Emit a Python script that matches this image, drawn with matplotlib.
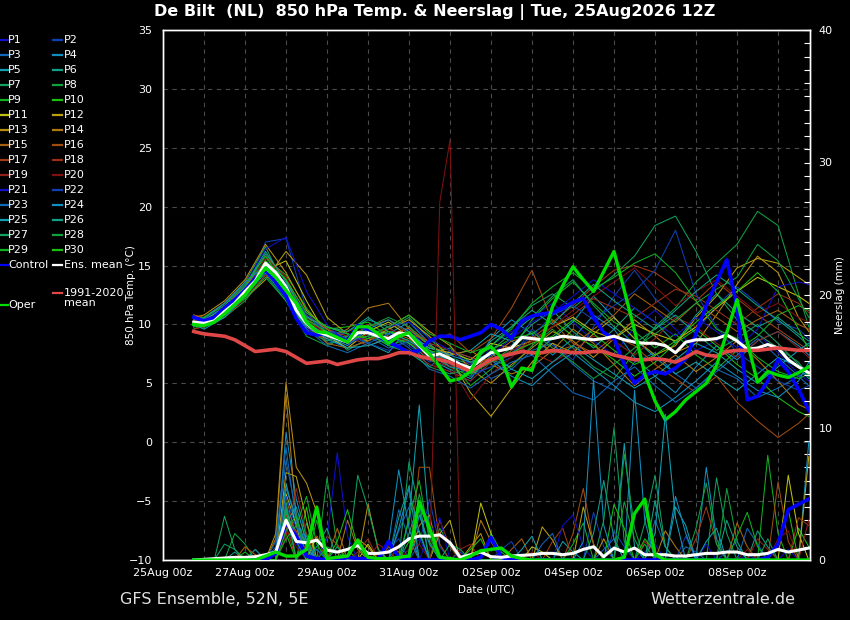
import numpy as np
import pandas as pd
import matplotlib
matplotlib.use('Agg')
import matplotlib.pyplot as plt
import matplotlib.dates as mdates
from matplotlib.lines import Line2D
from matplotlib.ticker import MultipleLocator

# --- data -------------------------------------------------------------------
times = pd.date_range('2026-08-25 18:00', periods=61, freq='6h')
# members are stored 12-hourly (plus first and last step)
member_steps = [0] + list(range(1, 60, 2)) + [60]

ens_mean = [10.2, 10.1, 10.3, 11.1, 11.8, 12.8, 13.7, 15.2, 14.4, 13.2,
            11.2, 10.1, 9.4, 9.1, 8.8, 8.5, 9.3, 9.3, 9.0, 8.8,
            9.3, 9.1, 8.2, 7.3, 7.5, 7.1, 6.6, 6.3, 7.0, 7.6,
            7.8, 8.0, 8.9, 8.8, 8.7, 8.8, 9.0, 8.9, 8.8, 8.7,
            8.8, 9.0, 8.7, 8.5, 8.4, 8.4, 8.2, 7.6, 8.5, 8.7,
            8.7, 8.8, 9.1, 8.6, 7.9, 8.0, 8.3, 8.0, 7.0, 6.4, 5.9]
clim_mean = [9.4, 9.2, 9.1, 9.0, 8.7, 8.2, 7.7, 7.8, 7.9, 7.7,
             7.2, 6.7, 6.8, 6.9, 6.6, 6.8, 7.0, 7.1, 7.1, 7.3,
             7.6, 7.6, 7.3, 7.1, 7.0, 6.8, 6.4, 6.0, 6.5, 7.0,
             7.3, 7.5, 7.7, 7.6, 7.6, 7.8, 7.7, 7.6, 7.6, 7.7,
             7.7, 7.4, 7.2, 7.0, 7.0, 7.1, 7.0, 6.8, 7.2, 7.7,
             7.4, 7.3, 7.7, 7.8, 7.8, 7.8, 7.9, 8.0, 7.9, 7.8, 7.8]
control = [10.6, 10.3, 10.6, 11.4, 12.1, 12.9, 13.9, 14.6, 13.6, 12.4,
           10.5, 9.3, 9.1, 9.3, 9.0, 8.6, 9.9, 9.6, 9.0, 8.5,
           8.1, 7.6, 7.8, 8.6, 9.0, 9.0, 8.7, 9.0, 9.3, 10.0,
           9.6, 8.8, 10.3, 10.7, 10.9, 11.0, 11.4, 11.9, 12.2, 10.6,
           9.3, 8.8, 6.6, 5.0, 5.7, 6.0, 5.8, 6.3, 7.1, 9.2,
           11.6, 13.6, 15.5, 11.5, 3.6, 3.9, 5.2, 7.0, 6.0, 4.5, 2.7]
oper = [10.0, 9.9, 10.2, 10.9, 11.7, 12.5, 13.6, 14.8, 14.0, 12.9,
        11.8, 10.2, 9.4, 9.3, 8.9, 8.5, 9.8, 9.8, 9.2, 8.4,
        9.0, 9.3, 8.3, 7.5, 6.4, 5.2, 5.4, 6.0, 7.7, 8.1,
        7.2, 4.7, 6.3, 6.1, 8.8, 11.5, 13.3, 14.9, 13.8, 12.8,
        14.5, 16.2, 12.9, 9.5, 5.8, 3.5, 1.9, 2.6, 3.6, 4.3,
        5.0, 6.5, 9.3, 12.1, 8.5, 5.1, 6.0, 5.7, 5.5, 5.9, 6.4]

members = [
    [10.4, 10.0, 11.5, 13.2, 15.8, 12.6, 9.6, 9.0, 8.2, 9.8, 8.4, 9.6, 7.8, 6.0, 5.2, 8.2, 9.4, 10.6, 11.8, 10.2, 8.6, 7.4, 9.8, 11.2, 9.6, 7.8, 8.6, 10.4, 9.2, 7.6, 5.8, 5.2],
    [10.0, 10.3, 11.0, 12.6, 17.0, 17.3, 11.2, 8.7, 8.0, 8.6, 9.4, 8.2, 6.8, 7.6, 5.8, 6.4, 7.2, 9.6, 8.2, 7.0, 9.8, 12.4, 14.6, 12.2, 10.6, 9.4, 11.6, 13.2, 11.8, 10.2, 9.6, 8.8],
    [9.8, 10.4, 11.8, 13.4, 14.6, 12.8, 10.4, 9.6, 8.8, 9.0, 8.0, 8.6, 6.4, 7.8, 7.2, 5.4, 6.2, 7.8, 8.4, 6.6, 5.2, 4.4, 6.8, 7.6, 5.8, 4.6, 6.2, 5.4, 3.8, 4.6, 5.6, 6.0],
    [10.6, 10.2, 11.2, 12.4, 14.8, 13.6, 10.8, 8.4, 8.6, 9.6, 9.2, 10.2, 8.4, 6.6, 6.0, 8.8, 10.4, 9.2, 7.4, 8.8, 10.8, 9.6, 7.2, 5.6, 4.2, 6.4, 8.2, 7.0, 8.6, 9.4, 8.2, 7.4],
    [10.2, 9.8, 10.8, 12.2, 15.4, 12.2, 9.2, 9.8, 9.2, 8.4, 7.6, 9.8, 8.2, 7.4, 7.8, 9.2, 8.6, 7.4, 8.8, 10.2, 12.4, 10.6, 8.8, 7.2, 5.8, 6.8, 5.6, 4.4, 5.8, 7.2, 6.4, 5.4],
    [10.0, 10.6, 11.4, 13.0, 16.0, 13.8, 10.2, 8.6, 9.4, 10.4, 9.8, 8.4, 7.0, 6.2, 5.4, 7.4, 8.2, 10.0, 11.2, 9.4, 8.0, 9.6, 11.4, 10.2, 8.4, 10.8, 12.6, 11.0, 9.8, 10.6, 9.2, 8.6],
    [10.8, 10.5, 11.6, 13.6, 16.6, 13.0, 9.8, 9.4, 7.8, 8.8, 9.6, 10.6, 8.8, 7.2, 6.6, 8.2, 9.8, 11.6, 12.6, 11.4, 12.8, 14.2, 15.8, 18.4, 19.2, 16.2, 12.6, 10.4, 9.2, 8.0, 6.8, 5.6],
    [9.6, 10.0, 10.6, 12.0, 14.2, 12.0, 9.0, 8.2, 9.0, 9.8, 8.6, 9.4, 7.6, 8.0, 6.8, 7.0, 6.4, 8.2, 9.6, 8.0, 6.4, 5.4, 7.6, 9.8, 11.4, 13.6, 15.2, 16.8, 19.6, 18.4, 12.6, 9.8],
    [10.4, 10.2, 11.2, 13.0, 15.6, 14.2, 11.4, 9.2, 8.6, 9.2, 8.2, 8.8, 7.2, 6.8, 4.8, 6.2, 7.8, 10.4, 12.2, 13.6, 11.8, 10.2, 9.4, 8.0, 9.2, 7.4, 6.2, 7.8, 9.0, 10.8, 11.6, 11.2],
    [10.0, 9.8, 11.0, 12.6, 15.0, 13.4, 10.6, 9.6, 9.8, 10.2, 9.0, 8.4, 7.4, 6.4, 5.6, 7.8, 8.8, 9.2, 10.4, 9.0, 8.2, 7.0, 5.6, 6.8, 8.4, 9.6, 8.2, 6.6, 5.4, 3.8, 2.6, 2.2],
    [10.2, 10.4, 11.4, 12.8, 14.6, 15.4, 12.0, 9.0, 8.0, 9.4, 10.2, 9.0, 8.0, 7.6, 7.0, 8.4, 8.0, 8.6, 9.8, 10.6, 9.4, 8.8, 10.0, 9.2, 8.6, 9.8, 11.4, 12.8, 14.0, 13.2, 12.4, 11.8],
    [9.8, 10.0, 11.0, 12.2, 13.8, 16.2, 14.2, 10.6, 9.2, 8.6, 9.6, 10.4, 9.0, 7.2, 4.2, 2.2, 4.6, 6.8, 8.4, 7.6, 9.2, 10.6, 8.8, 7.4, 8.2, 10.6, 12.4, 14.8, 15.6, 15.2, 14.0, 13.4],
    [10.6, 10.8, 12.0, 13.8, 16.8, 14.4, 11.2, 9.6, 8.4, 9.0, 9.8, 10.8, 9.4, 8.2, 6.2, 5.0, 6.6, 8.0, 9.4, 8.6, 7.2, 8.8, 10.4, 9.0, 7.6, 8.4, 10.8, 13.4, 15.8, 14.4, 10.6, 9.4],
    [10.4, 10.2, 11.2, 12.6, 15.0, 12.4, 9.4, 8.8, 9.6, 11.4, 11.8, 9.6, 8.2, 7.4, 7.8, 6.6, 5.8, 6.4, 7.8, 9.6, 8.4, 6.6, 4.8, 6.2, 7.4, 6.0, 7.2, 8.6, 7.0, 5.2, 3.2, 2.8],
    [10.0, 10.2, 11.6, 13.2, 15.4, 13.0, 10.0, 8.4, 8.0, 8.6, 9.4, 8.8, 7.6, 6.8, 6.4, 7.2, 8.6, 9.0, 7.6, 8.2, 9.6, 10.8, 12.6, 11.4, 10.2, 11.8, 10.6, 9.4, 10.4, 11.2, 10.0, 9.6],
    [10.8, 10.6, 11.8, 13.6, 15.8, 14.0, 10.4, 9.2, 8.8, 9.8, 10.4, 9.2, 8.6, 9.2, 7.6, 8.8, 11.4, 14.6, 10.2, 8.4, 7.6, 9.0, 8.2, 6.6, 5.4, 4.2, 5.6, 3.4, 1.8, 0.4, 1.6, 2.4],
    [10.2, 9.8, 10.8, 12.4, 14.8, 13.2, 10.8, 9.6, 9.0, 8.2, 8.8, 9.8, 8.4, 7.8, 7.2, 6.8, 7.4, 8.8, 10.2, 11.6, 13.2, 14.6, 15.0, 14.4, 13.2, 12.0, 13.6, 12.2, 10.8, 9.6, 8.4, 7.8],
    [9.6, 9.8, 10.6, 12.2, 14.2, 12.8, 9.8, 8.6, 9.4, 10.0, 8.4, 7.8, 6.6, 6.0, 5.2, 6.8, 7.8, 8.4, 9.8, 10.8, 12.2, 11.4, 10.6, 11.8, 13.0, 12.4, 11.2, 10.0, 11.4, 12.6, 11.8, 11.0],
    [10.4, 10.0, 11.2, 13.0, 14.4, 12.6, 10.2, 9.2, 8.6, 8.8, 9.0, 8.6, 7.0, 6.4, 6.8, 7.6, 8.2, 7.6, 6.8, 7.8, 9.0, 8.6, 7.4, 8.8, 10.6, 9.8, 8.4, 7.2, 8.6, 9.4, 8.0, 7.2],
    [10.0, 10.2, 11.0, 12.8, 15.6, 14.0, 10.6, 9.0, 8.4, 9.2, 9.6, 9.0, 7.2, 6.6, 3.6, 5.8, 7.2, 8.6, 9.8, 11.2, 12.4, 13.6, 14.8, 13.2, 11.6, 12.8, 13.8, 12.4, 11.0, 11.8, 10.6, 10.2],
    [10.2, 10.4, 11.6, 13.4, 16.4, 17.4, 12.8, 10.0, 8.4, 9.0, 9.8, 10.2, 8.8, 7.8, 6.6, 7.4, 8.8, 10.2, 11.0, 12.4, 13.8, 12.6, 11.4, 10.2, 9.0, 10.6, 9.4, 8.0, 9.6, 13.2, 13.6, 13.4],
    [10.6, 10.0, 11.4, 13.0, 15.2, 13.4, 10.8, 9.4, 9.2, 8.4, 7.8, 8.6, 7.4, 6.8, 5.6, 6.4, 7.6, 9.0, 10.8, 11.6, 10.4, 11.6, 12.8, 14.6, 18.0, 12.6, 9.8, 7.6, 6.4, 5.2, 4.4, 4.8],
    [9.8, 10.2, 11.0, 12.6, 14.6, 12.4, 9.6, 8.2, 7.6, 8.4, 9.2, 8.0, 6.2, 5.6, 4.6, 5.8, 6.8, 7.4, 5.8, 4.2, 3.6, 5.2, 6.4, 4.8, 3.4, 4.6, 6.0, 7.4, 8.8, 7.2, 5.6, 4.8],
    [10.4, 10.6, 11.8, 13.6, 15.0, 12.8, 10.2, 9.0, 8.2, 9.6, 10.4, 9.4, 7.8, 6.4, 6.0, 7.0, 5.6, 4.8, 6.4, 7.6, 6.2, 4.8, 3.4, 2.6, 3.8, 5.2, 6.8, 5.6, 4.4, 3.8, 5.2, 6.8],
    [10.0, 9.6, 10.6, 12.4, 14.4, 12.2, 9.8, 8.8, 8.0, 8.2, 8.8, 9.2, 8.0, 7.4, 6.8, 7.6, 6.2, 5.4, 6.8, 8.2, 7.0, 5.8, 4.6, 5.6, 7.0, 8.4, 7.6, 6.2, 5.0, 6.4, 7.8, 8.4],
    [10.6, 10.4, 11.4, 13.2, 16.2, 13.6, 10.6, 9.8, 9.4, 10.6, 9.4, 8.6, 7.6, 7.0, 6.4, 8.6, 9.8, 11.2, 10.0, 11.8, 13.4, 12.0, 10.8, 9.6, 11.2, 12.8, 14.2, 13.0, 11.6, 10.4, 9.0, 8.2],
    [10.2, 10.0, 11.2, 12.8, 15.2, 12.6, 9.4, 8.6, 9.0, 9.4, 8.2, 7.6, 6.4, 5.8, 6.2, 7.8, 9.2, 10.6, 12.4, 13.8, 11.6, 9.8, 8.4, 9.6, 10.8, 9.2, 7.8, 8.8, 10.0, 8.4, 6.6, 6.0],
    [9.8, 10.0, 11.0, 12.2, 14.0, 12.0, 9.4, 9.0, 8.6, 9.8, 10.6, 9.8, 8.2, 7.0, 5.8, 6.8, 8.0, 9.4, 8.0, 6.8, 5.4, 6.6, 8.0, 9.2, 10.4, 11.8, 13.0, 14.0, 16.8, 15.4, 12.2, 10.6],
    [10.4, 10.6, 11.6, 13.4, 15.8, 13.2, 10.4, 9.4, 8.8, 9.0, 9.8, 10.8, 9.2, 8.4, 7.6, 8.2, 9.6, 11.8, 13.2, 14.4, 13.0, 14.0, 15.2, 16.0, 14.4, 12.0, 9.6, 8.8, 7.2, 6.0, 5.4, 5.8],
    [10.0, 10.2, 11.2, 12.6, 15.4, 13.8, 11.0, 9.8, 9.2, 8.8, 9.4, 9.0, 7.8, 7.2, 6.0, 7.0, 7.6, 8.4, 9.0, 10.4, 9.2, 7.8, 6.6, 7.4, 8.6, 10.2, 11.6, 12.8, 14.4, 12.8, 9.6, 7.8],
]

rain_mean = [0.0, 0.05, 0.1, 0.15, 0.2, 0.2, 0.25, 0.4, 0.6, 3.0,
             1.4, 1.3, 1.5, 0.75, 0.6, 0.8, 1.1, 0.5, 0.5, 0.6,
             1.0, 1.6, 1.8, 1.8, 1.9, 1.3, 0.2, 0.4, 0.6, 0.25,
             0.2, 0.3, 0.35, 0.4, 0.5, 0.5, 0.4, 0.5, 0.8, 1.0,
             0.25, 0.9, 0.6, 0.9, 0.4, 0.4, 0.4, 0.3, 0.3, 0.4,
             0.5, 0.5, 0.6, 0.6, 0.4, 0.4, 0.5, 0.8, 0.6, 0.75, 0.9]
rain_control = [0, 0, 0, 0, 0, 0, 0, 0, 0.5, 2.8,
                1.8, 0.3, 0.1, 0, 0, 0.2, 0.1, 0.1, 0.1, 1.4,
                0.2, 0, 0, 0, 0, 0, 0, 0, 0.2, 1.7,
                0.2, 0, 0, 0, 0, 0, 0, 0, 0, 0,
                0, 0, 0, 0, 0, 0, 0, 0, 0, 0,
                0, 0, 0, 0, 0, 0, 0.2, 1.2, 3.8, 4.2, 4.6]
rain_oper = [0, 0, 0, 0, 0, 0, 0, 0.3, 0.6, 0.3,
             0.3, 0.8, 4.0, 0.1, 0.2, 0.3, 1.5, 0.2, 0.1, 0.1,
             0.2, 0.3, 4.4, 2.4, 0.2, 0.1, 0, 0.3, 0.7, 0.8,
             0.9, 0.3, 0.1, 0, 0, 0, 0, 0, 0, 0,
             0, 0, 0.2, 3.5, 4.6, 0.4, 0, 0, 0, 0,
             0, 0, 0, 0, 0, 0, 0, 0, 0, 0, 0]

# member rain: {6-hourly step: mm}, all other steps are dry
member_rain = [
    {8: 0.6, 9: 3.2, 10: 1.4, 16: 0.4, 21: 0.8, 22: 1.6, 30: 0.3, 44: 0.6, 45: 1.2, 54: 0.4, 58: 0.8},
    {9: 4.2, 10: 2.0, 11: 0.8, 22: 1.2, 23: 4.6, 24: 1.0, 39: 3.6, 40: 1.0, 52: 0.6, 53: 1.4},
    {8: 1.0, 9: 7.5, 10: 3.6, 12: 0.8, 20: 2.2, 21: 4.0, 45: 3.0, 46: 1.0, 48: 1.0, 49: 0.6},
    {9: 9.6, 10: 4.6, 11: 1.8, 19: 1.2, 20: 6.8, 21: 2.4, 43: 12.8, 44: 3.0, 50: 7.0, 51: 1.6, 60: 8.9},
    {6: 0.8, 9: 5.8, 10: 2.6, 21: 3.0, 22: 11.7, 23: 2.4, 36: 1.4, 37: 0.6, 42: 8.8, 43: 1.0, 47: 4.0, 48: 2.6},
    {4: 0.6, 9: 3.6, 11: 2.0, 14: 1.0, 20: 3.2, 21: 5.6, 45: 4.5, 46: 1.0, 55: 2.2, 56: 1.0},
    {3: 3.3, 4: 0.8, 9: 2.4, 10: 3.0, 21: 7.4, 22: 3.8, 40: 3.0, 41: 10.0, 42: 1.4, 51: 6.2, 52: 2.0},
    {4: 2.0, 5: 1.2, 9: 4.4, 11: 2.8, 13: 6.2, 14: 1.0, 24: 2.4, 25: 1.0, 42: 8.0, 43: 2.4, 52: 5.4, 53: 1.4},
    {9: 3.8, 10: 1.4, 12: 3.0, 18: 0.6, 29: 2.0, 30: 0.6, 37: 1.2, 38: 2.8, 56: 7.9, 57: 2.0},
    {8: 0.4, 9: 2.0, 11: 4.0, 15: 0.8, 21: 1.4, 22: 2.2, 44: 1.6, 45: 0.6, 59: 2.4, 60: 1.0},
    {9: 5.0, 10: 2.6, 12: 1.8, 17: 1.2, 28: 4.3, 29: 2.0, 33: 1.0, 34: 0.6, 58: 6.4, 59: 2.0},
    {9: 6.6, 10: 6.3, 11: 3.0, 16: 1.6, 17: 1.0, 24: 2.0, 25: 3.0, 34: 2.5, 35: 1.5, 38: 4.0, 39: 1.2, 60: 7.8},
    {8: 2.0, 9: 13.4, 10: 7.0, 11: 5.8, 12: 3.6, 17: 4.2, 18: 0.8, 27: 1.0, 28: 2.0, 40: 1.6},
    {8: 1.6, 9: 12.5, 10: 3.2, 11: 1.0, 15: 3.0, 16: 0.8, 22: 2.6, 23: 3.4, 28: 3.0, 29: 1.4, 46: 2.2, 47: 1.0},
    {5: 1.0, 6: 0.4, 9: 4.8, 10: 1.6, 14: 2.4, 19: 1.0, 20: 0.6, 31: 0.8, 32: 1.6, 53: 2.8, 54: 1.0},
    {9: 3.4, 10: 2.2, 13: 1.8, 14: 1.2, 22: 7.0, 23: 7.0, 24: 1.2, 37: 2.0, 38: 5.4, 39: 1.2, 57: 5.9, 58: 1.4},
    {9: 2.6, 11: 1.2, 12: 1.8, 20: 1.0, 21: 1.6, 35: 1.4, 36: 2.4, 49: 1.6, 50: 4.0, 51: 1.2},
    {8: 0.8, 9: 3.0, 10: 1.8, 16: 0.6, 17: 1.6, 24: 3.0, 25: 1.0, 44: 1.4, 45: 0.6, 59: 3.2, 60: 2.6},
    {9: 1.8, 10: 5.4, 11: 2.0, 18: 1.2, 19: 0.6, 26: 0.8, 27: 1.2, 55: 1.6, 56: 0.8, 60: 3.0},
    {9: 2.2, 10: 1.0, 21: 0.8, 22: 1.2, 24: 27.0, 25: 31.7, 33: 0.6, 54: 0.8, 57: 1.6, 58: 2.2},
    {9: 3.0, 10: 1.2, 13: 1.6, 14: 8.1, 15: 1.8, 23: 2.0, 24: 3.2, 36: 2.6, 37: 3.4, 38: 1.0, 50: 1.2},
    {9: 4.8, 10: 2.4, 11: 1.6, 19: 0.8, 20: 1.6, 26: 0.6, 30: 0.8, 31: 1.4, 41: 2.2, 42: 1.0, 48: 1.8},
    {8: 1.4, 9: 8.5, 10: 2.8, 12: 0.8, 20: 3.8, 21: 1.6, 34: 1.2, 35: 2.0, 40: 0.8, 41: 1.6, 54: 2.4, 55: 1.2},
    {9: 5.4, 10: 3.2, 11: 1.0, 20: 2.4, 21: 5.4, 22: 2.0, 38: 1.4, 39: 13.6, 40: 2.6, 47: 4.8, 48: 2.0},
    {9: 2.8, 10: 4.0, 11: 1.4, 22: 3.4, 23: 1.2, 32: 0.8, 33: 1.8, 45: 2.0, 46: 11.0, 47: 3.2, 50: 1.4, 51: 2.4},
    {9: 3.8, 10: 1.6, 12: 1.0, 13: 2.4, 21: 2.0, 22: 4.4, 39: 2.0, 40: 6.0, 41: 1.6, 52: 3.0, 53: 1.0},
    {3: 1.2, 4: 0.8, 9: 4.0, 11: 1.6, 16: 6.4, 17: 3.9, 18: 0.8, 25: 1.2, 26: 0.8, 44: 2.8, 45: 6.4, 46: 1.0, 56: 1.6},
    {9: 2.2, 10: 3.4, 13: 1.0, 14: 0.6, 22: 5.0, 23: 1.8, 42: 4.4, 43: 1.6, 49: 2.4, 50: 5.8, 51: 1.2},
    {5: 0.6, 9: 1.6, 10: 2.6, 11: 4.8, 12: 1.2, 21: 3.2, 22: 6.0, 23: 1.4, 44: 1.2, 53: 1.8, 54: 3.6, 55: 1.0},
    {9: 3.2, 10: 1.8, 14: 1.4, 15: 3.8, 16: 1.0, 27: 0.8, 28: 1.6, 41: 4.2, 42: 2.4, 57: 1.2, 58: 3.8},
]

member_colors = ['#1010c8', '#1040b4', '#1068b8', '#1090c0', '#10a0b0',
                 '#10a088', '#10a060', '#10a040', '#10b020', '#18c010',
                 '#c0c010', '#b8a010', '#b89010', '#b07810', '#a86010',
                 '#a04c10', '#a03c14', '#983018', '#902018', '#801010']

# --- figure -----------------------------------------------------------------
W, H = 850, 620
fig = plt.figure(figsize=(W / 100, H / 100), dpi=100, facecolor='black')


def fx(x):
    return x / W


def fy(y):
    return 1 - y / H


ax = fig.add_axes([fx(163), fy(560), fx(810) - fx(163), fy(30) - fy(560)])
ax.set_facecolor('black')
ax2 = ax.twinx()

t = mdates.date2num(times)
tm = t[member_steps]

for k, vals in enumerate(members):
    ax.plot(tm, vals, color=member_colors[k % 20], lw=0.75, zorder=2)
    rain = np.zeros(len(times))
    for step, mm in member_rain[k].items():
        rain[step] = mm
    ax2.plot(t, rain, color=member_colors[k % 20], lw=0.75, zorder=2)

ax.plot(t, control, color='#0000ff', lw=2.6, zorder=3)
ax.plot(t, ens_mean, color='white', lw=2.2, zorder=4)
ax.plot(t, clim_mean, color='#e04848', lw=2.6, zorder=5)
ax.plot(t, oper, color='#00dd00', lw=2.4, zorder=6)

ax2.plot(t, rain_control, color='#0000ff', lw=2.6, zorder=3)
ax2.plot(t, rain_mean, color='white', lw=2.2, zorder=4)
ax2.plot(t, rain_oper, color='#00dd00', lw=2.4, zorder=6)

t0 = pd.Timestamp('2026-08-25')
ax.set_xlim(mdates.date2num(t0), mdates.date2num(t0) + 15.78)
ax.set_ylim(-10, 35)
ax2.set_ylim(0, 40)

major_days = pd.date_range(t0, periods=8, freq='2D')
ax.set_xticks(mdates.date2num(major_days))
ax.set_xticklabels([d.strftime('%d%b %Hz') for d in major_days])
ax.set_xticks(mdates.date2num(pd.date_range(t0, periods=16, freq='D')), minor=True)
ax.set_yticks(range(-10, 36, 5))

ax.tick_params(axis='both', which='both', length=0, colors='white', labelsize=8)
ax.tick_params(axis='y', pad=8)
ax.tick_params(axis='x', pad=6)

ax2.set_yticks(range(0, 41, 10))
ax2.yaxis.set_minor_locator(MultipleLocator(1))
ax2.tick_params(axis='y', which='both', direction='in', length=4, width=0.8,
                colors='white', labelsize=8, pad=6)

grid_style = dict(color='#4a4a4a', lw=0.8, ls=(0, (4, 4)))
ax.grid(True, which='both', axis='x', **grid_style)
ax.grid(True, which='major', axis='y', **grid_style)
ax.set_axisbelow(True)

for a in (ax, ax2):
    for sp in a.spines.values():
        sp.set_color('white')
        sp.set_linewidth(1.0)

# --- text -------------------------------------------------------------------
fig.text(fx(435), fy(12), 'De Bilt  (NL)  850 hPa Temp. & Neerslag | Tue, 25Aug2026 12Z',
         color='white', fontsize=11.5, fontweight='bold', ha='center', va='center')
fig.text(fx(486), fy(589), 'Date (UTC)', color='white', fontsize=7.5,
         ha='center', va='center')
fig.text(fx(131), fy(295), '850 hPa Temp. (°C)', color='white', fontsize=7.5,
         rotation=90, ha='center', va='center')
fig.text(fx(840), fy(295), 'Neerslag (mm)', color='white', fontsize=7.5,
         rotation=90, ha='center', va='center')
fig.text(fx(120), fy(599), 'GFS Ensemble, 52N, 5E', color='#e0e0e0',
         fontsize=11.5, ha='left', va='center')
fig.text(fx(650), fy(599), 'Wetterzentrale.de', color='#e0e0e0',
         fontsize=11.5, ha='left', va='center')

# --- legend (drawn by hand, two columns) -------------------------------------
def legend_entry(x_line, y, color, label, x_text):
    fig.add_artist(Line2D([fx(x_line), fx(x_line + 9)], [fy(y), fy(y)],
                          color=color, lw=1.6, transform=fig.transFigure))
    fig.text(fx(x_text), fy(y), label, color='white', fontsize=8,
             ha='left', va='center', linespacing=0.95)


for k in range(30):
    row, col = divmod(k, 2)
    y = 40 + 15 * row
    if col == 0:
        legend_entry(-1, y, member_colors[k % 20], f'P{k + 1}', 8)
    else:
        legend_entry(53, y, member_colors[k % 20], f'P{k + 1}', 64)

legend_entry(-1, 265, '#0000ff', 'Control', 8)
legend_entry(53, 265, 'white', 'Ens. mean', 64)
legend_entry(53, 293, '#e04848', '1991-2020', 64)
fig.text(fx(64), fy(303), 'mean', color='white', fontsize=8, ha='left', va='center')
legend_entry(-1, 305, '#00dd00', 'Oper', 8)

fig.savefig('out.png', dpi=100, facecolor='black')
